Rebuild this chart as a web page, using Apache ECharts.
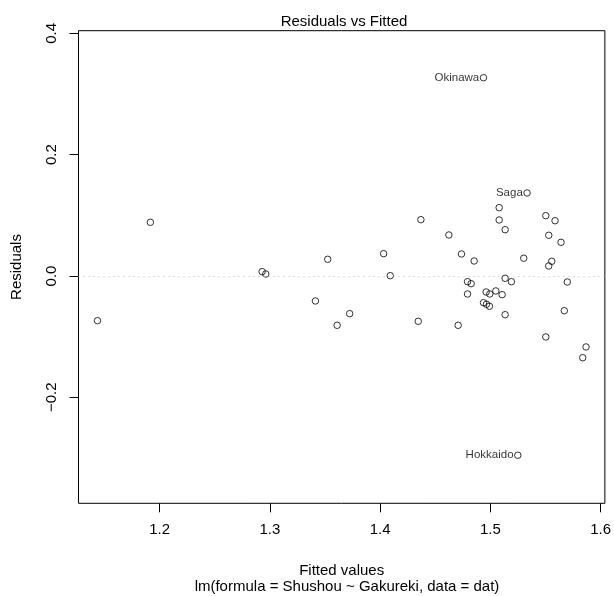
<!DOCTYPE html>
<html>
<head>
<meta charset="utf-8">
<script src="https://cdn.jsdelivr.net/npm/echarts@6/dist/echarts.min.js"></script>
<style>
html,body{margin:0;padding:0;background:#fff;}
#chart{width:614px;height:596px;}
</style>
</head>
<body>
<div id="chart"></div>
<script>
// Fitted values (x) and residuals (y)
var fittedValues = [
  1.1436, 1.1916, 1.2930, 1.2963, 1.3525, 1.3413, 1.3724, 1.3610, 1.4032, 1.4092,
  1.5080, 1.4370, 1.5080, 1.5134, 1.5503, 1.5587, 1.4624, 1.5530, 1.5641, 1.4738,
  1.4853, 1.5303, 1.5557, 1.5530, 1.5134, 1.5191, 1.4793, 1.4826, 1.5698, 1.4962,
  1.4995, 1.5050, 1.5107, 1.4793, 1.4938, 1.4965, 1.4992, 1.5134, 1.5671, 1.4346,
  1.4708, 1.5503, 1.5868, 1.5838, 1.4938, 1.5333, 1.5249
];
var residuals = [
  -0.0737, 0.0885, 0.0071, 0.0033, 0.0275, -0.0412, -0.0621, -0.0813, 0.0368, 0.0005,
  0.1126, 0.0928, 0.0923, 0.0763, 0.0994, 0.0911, 0.0676, 0.0671, 0.0555, 0.0363,
  0.0247, 0.0292, 0.0242, 0.0165, -0.0038, -0.0094, -0.0094, -0.0127, -0.0099, -0.0264,
  -0.0297, -0.0247, -0.0308, -0.0297, -0.0440, -0.0466, -0.0499, -0.0638, -0.0572, -0.0747,
  -0.0813, -0.1005, -0.1170, -0.1347, 0.3268, 0.1368, -0.2955
];
var pointNames = [
  '', '', '', '', '', '', '', '', '', '',
  '', '', '', '', '', '', '', '', '', '',
  '', '', '', '', '', '', '', '', '', '',
  '', '', '', '', '', '', '', '', '', '',
  '', '', '', '', 'Okinawa', 'Saga', 'Hokkaido'
];
var xTicks = [1.2, 1.3, 1.4, 1.5, 1.6];
var yTicks = [-0.2, 0.0, 0.2, 0.4];

var FONT = 'Liberation Sans, Arial, sans-serif';

var data = fittedValues.map(function (x, i) {
  var item = { value: [x, residuals[i]] };
  if (pointNames[i]) {
    item.label = {
      show: true, position: 'left', distance: 0.5,
      formatter: pointNames[i], color: '#000', fontSize: 11.5, fontFamily: FONT
    };
  }
  return item;
});

function fmt(v) {
  var s = Math.abs(v).toFixed(1);
  return v < -1e-9 ? '\u2212' + s : s;
}

var chart = echarts.init(document.getElementById('chart'), null, { renderer: 'canvas' });
chart.setOption({
  animation: false,
  backgroundColor: '#fff',
  title: [
    { text: 'Residuals vs Fitted', left: 339, textAlign: 'center', top: 9,
      textStyle: { fontSize: 15, fontWeight: 'normal', color: '#000', fontFamily: FONT } },
    { text: 'lm(formula = Shushou ~ Gakureki, data = dat)', left: 342, textAlign: 'center', top: 574,
      textStyle: { fontSize: 15, fontWeight: 'normal', color: '#000', fontFamily: FONT } }
  ],
  grid: {
    left: 78.5, right: 8, top: 30.7, bottom: 92.7,
    show: true, borderColor: '#000', borderWidth: 1, backgroundColor: 'transparent'
  },
  xAxis: {
    type: 'value', min: 1.1264, max: 1.6039,
    name: 'Fitted values', nameLocation: 'middle', nameGap: 60,
    nameTextStyle: { fontSize: 15, color: '#000', fontFamily: FONT },
    axisLine: { show: false, onZero: false },
    splitLine: { show: false },
    axisTick: { show: true, length: 9, customValues: xTicks, lineStyle: { color: '#000' } },
    axisLabel: { customValues: xTicks, margin: 19, fontSize: 15, color: '#000', fontFamily: FONT,
      formatter: function (v) { return v.toFixed(1); } }
  },
  yAxis: {
    type: 'value', min: -0.3747, max: 0.4043,
    name: 'Residuals', nameLocation: 'middle', nameGap: 54, nameRotate: 90,
    nameTextStyle: { fontSize: 15, color: '#000', fontFamily: FONT },
    axisLine: { show: false, onZero: false },
    splitLine: { show: false },
    axisTick: { show: true, length: 9, customValues: yTicks, lineStyle: { color: '#000' } },
    axisLabel: { customValues: yTicks, margin: 19, rotate: 90, fontSize: 15, color: '#000', fontFamily: FONT,
      formatter: fmt }
  },
  series: [{
    type: 'scatter',
    symbol: 'circle',
    symbolSize: 6.5,
    itemStyle: { color: 'rgba(0,0,0,0)', borderColor: '#000', borderWidth: 1 },
    data: data,
    markLine: {
      silent: true, symbol: 'none', label: { show: false },
      lineStyle: { type: [1, 4], color: '#bebebe', width: 1 },
      data: [{ yAxis: 0 }]
    },
    z: 3
  }]
});
</script>
</body>
</html>
